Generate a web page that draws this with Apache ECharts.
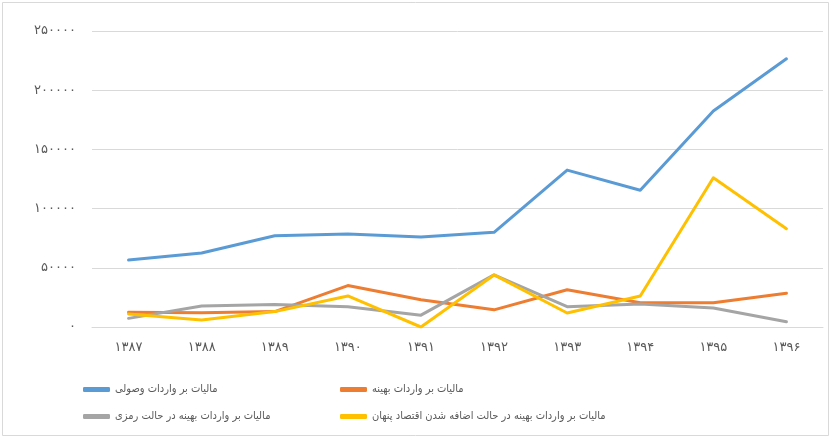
<!DOCTYPE html>
<html><head><meta charset="utf-8">
<script src="https://cdn.jsdelivr.net/npm/echarts@6/dist/echarts.min.js"></script>
<style>html,body{margin:0;padding:0;background:#fff}#c{width:832px;height:439px}</style>
</head><body><div id="c"></div>
<script>
const categories = ['۱۳۸۷','۱۳۸۸','۱۳۸۹','۱۳۹۰','۱۳۹۱','۱۳۹۲','۱۳۹۳','۱۳۹۴','۱۳۹۵','۱۳۹۶'];
const seriesNames = ['مالیات بر واردات وصولی','مالیات بر واردات بهینه','مالیات بر واردات بهینه در حالت رمزی','مالیات بر واردات بهینه در حالت اضافه شدن اقتصاد پنهان'];
const collected = [56500, 62500, 77000, 78500, 76000, 80000, 132500, 115500, 182500, 226500];
const optimal = [12500, 12000, 13000, 35000, 23000, 14500, 31500, 20500, 20500, 28500];
const ramsey = [7300, 17700, 19000, 17200, 10000, 44000, 17200, 19400, 16000, 4500];
const hidden = [11000, 6000, 13000, 26200, 0, 44000, 11800, 26200, 126000, 83000];
const yTicks = {0:'۰',50000:'۵۰۰۰۰',100000:'۱۰۰۰۰۰',150000:'۱۵۰۰۰۰',200000:'۲۰۰۰۰۰',250000:'۲۵۰۰۰۰'};
const colors = ['#5b9bd5','#ed7d31','#a5a5a5','#ffc000'];

const chart = echarts.init(document.getElementById('c'));
const font = 'DejaVu Sans, sans-serif';
const legendFont = '"DejaVu Sans Condensed", "DejaVu Sans", sans-serif';
const legendPos = [[78,379],[335,379],[78,406],[335,406]];
chart.setOption({
  animation:false,
  backgroundColor:'#fff',
  graphic:[{type:'rect',shape:{x:2.5,y:2.5,width:826,height:433},style:{fill:'none',stroke:'#d9d9d9',lineWidth:1},silent:true}],
  grid:{left:92,right:9,top:31,bottom:112},
  legend: seriesNames.map((n,i)=>({data:[n],left:legendPos[i][0],top:legendPos[i][1],itemWidth:27,itemHeight:5,itemGap:8,icon:'roundRect',textStyle:{color:'#595959',fontSize:11,fontFamily:legendFont}})),
  xAxis:{type:'category',data:categories,boundaryGap:true,
    axisLine:{show:true,lineStyle:{color:'#d9d9d9'}},axisTick:{show:false},
    axisLabel:{color:'#595959',fontSize:13,fontFamily:font,margin:14}},
  yAxis:{type:'value',min:0,max:250000,interval:50000,
    axisLine:{show:false},axisTick:{show:false},
    splitLine:{lineStyle:{color:'#d9d9d9'}},
    axisLabel:{color:'#595959',fontSize:13,fontFamily:font,margin:16,formatter:v=>yTicks[v]}},
  series:[collected,optimal,ramsey,hidden].map((d,i)=>({name:seriesNames[i],type:'line',data:d,symbol:'none',
    lineStyle:{width:3,color:colors[i],cap:'round',join:'round'},itemStyle:{color:colors[i]}}))
});
</script></body></html>
